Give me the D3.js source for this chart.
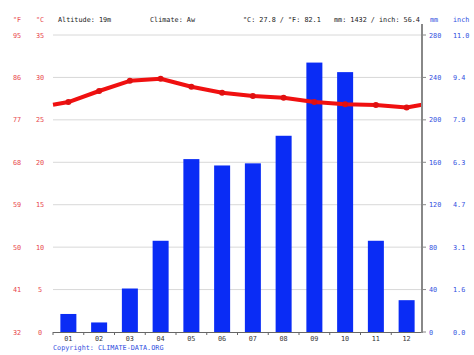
<!DOCTYPE html>
<html><head><meta charset="utf-8">
<script src="https://cdn.jsdelivr.net/npm/d3@7/dist/d3.min.js"></script>
<style>body{margin:0;background:#fff}svg{display:block}text{font-family:"DejaVu Sans Mono",monospace;font-size:6.8px}</style>
</head><body><svg id="c" width="474" height="355"></svg>
<script>
const months = ["01","02","03","04","05","06","07","08","09","10","11","12"];
const precipMM = [17,9,41,86,163,157,159,185,254,245,86,30];
const tempC = [27.1,28.4,29.6,29.85,28.9,28.2,27.8,27.6,27.1,26.85,26.75,26.45];
const cTicks = [0,5,10,15,20,25,30,35];
const fTicks = [32,41,50,59,68,77,86,95];
const mmTicks = [0,40,80,120,160,200,240,280];
const inchTicks = ["0.0","1.6","3.1","4.7","6.3","7.9","9.4","11.0"];

const svg = d3.select("#c");
const L = 53, R = 422, T = 35, B = 332;
const x = d3.scaleBand().domain(months).range([L,R]);
const yC = d3.scaleLinear().domain([0,35]).range([B,T]);
const yMM = d3.scaleLinear().domain([0,280]).range([B,T]);
const red = "#e8474c", blue = "#3350e0";

// gridlines
svg.append("g").selectAll("line").data(cTicks.slice(1)).join("line")
  .attr("x1",L).attr("x2",R).attr("y1",d=>yC(d)).attr("y2",d=>yC(d))
  .attr("stroke","#d8d8d8").attr("stroke-width",1);

// bars
const bw = 16;
svg.append("g").selectAll("rect").data(precipMM).join("rect")
  .attr("x",(d,i)=>x(months[i])+x.bandwidth()/2-bw/2)
  .attr("width",bw)
  .attr("y",d=>yMM(d)).attr("height",d=>B-yMM(d))
  .attr("fill","#0a2cf5");

// temperature line with wrap-around ends
const edge = (tempC[0]+tempC[11])/2;
const pts = [[L,yC(edge)]].concat(tempC.map((t,i)=>[x(months[i])+x.bandwidth()/2,yC(t)])).concat([[R,yC(edge)]]);
svg.append("path").attr("d",d3.line()(pts)).attr("fill","none")
  .attr("stroke","#f01010").attr("stroke-width",4).attr("stroke-linejoin","round");
svg.append("g").selectAll("circle").data(tempC).join("circle")
  .attr("cx",(d,i)=>x(months[i])+x.bandwidth()/2).attr("cy",d=>yC(d)).attr("r",3)
  .attr("fill","#e01010");

// bottom axis
svg.append("line").attr("x1",L).attr("x2",R).attr("y1",B+0.5).attr("y2",B+0.5)
  .attr("stroke","#666").attr("stroke-width",1);
svg.append("g").selectAll("line").data(months).join("line")
  .attr("x1",d=>x(d)).attr("x2",d=>x(d)).attr("y1",B).attr("y2",B+3)
  .attr("stroke","#666");
svg.append("g").selectAll("text").data(months).join("text")
  .attr("x",d=>x(d)+x.bandwidth()/2).attr("y",B+9).attr("text-anchor","middle")
  .attr("fill","#333").text(d=>d);

// right axis
svg.append("line").attr("x1",R).attr("x2",R).attr("y1",24).attr("y2",B+1)
  .attr("stroke","#888").attr("stroke-width",2);
svg.append("g").selectAll("line").data(mmTicks).join("line")
  .attr("x1",R).attr("x2",R+4).attr("y1",d=>yMM(d)).attr("y2",d=>yMM(d))
  .attr("stroke","#888");

// left labels
svg.append("g").selectAll("text").data(fTicks).join("text")
  .attr("x",17).attr("y",(d,i)=>yC(cTicks[i])+2.5).attr("text-anchor","middle")
  .attr("fill",red).text(d=>d);
svg.append("g").selectAll("text").data(cTicks).join("text")
  .attr("x",40).attr("y",d=>yC(d)+2.5).attr("text-anchor","middle")
  .attr("fill",red).text(d=>d);
// right labels
svg.append("g").selectAll("text").data(mmTicks).join("text")
  .attr("x",429).attr("y",d=>yMM(d)+2.5).attr("text-anchor","start")
  .attr("fill",blue).text(d=>d);
svg.append("g").selectAll("text").data(inchTicks).join("text")
  .attr("x",453).attr("y",(d,i)=>yMM(mmTicks[i])+2.5).attr("text-anchor","start")
  .attr("fill",blue).text(d=>d);

// header
const hy = 22;
svg.append("text").attr("x",17).attr("y",hy).attr("text-anchor","middle").attr("fill",red).text("°F");
svg.append("text").attr("x",40).attr("y",hy).attr("text-anchor","middle").attr("fill",red).text("°C");
svg.append("text").attr("x",58).attr("y",hy).attr("fill","#222").text("Altitude: 19m");
svg.append("text").attr("x",150).attr("y",hy).attr("fill","#222").text("Climate: Aw");
svg.append("text").attr("x",243).attr("y",hy).attr("fill","#222").text("°C: 27.8 / °F: 82.1");
svg.append("text").attr("x",334).attr("y",hy).attr("fill","#222").text("mm: 1432 / inch: 56.4");
svg.append("text").attr("x",430).attr("y",hy).attr("fill",blue).text("mm");
svg.append("text").attr("x",453).attr("y",hy).attr("fill",blue).text("inch");

// copyright
svg.append("text").attr("x",53).attr("y",350).attr("fill",blue).text("Copyright: CLIMATE-DATA.ORG");
</script></body></html>
